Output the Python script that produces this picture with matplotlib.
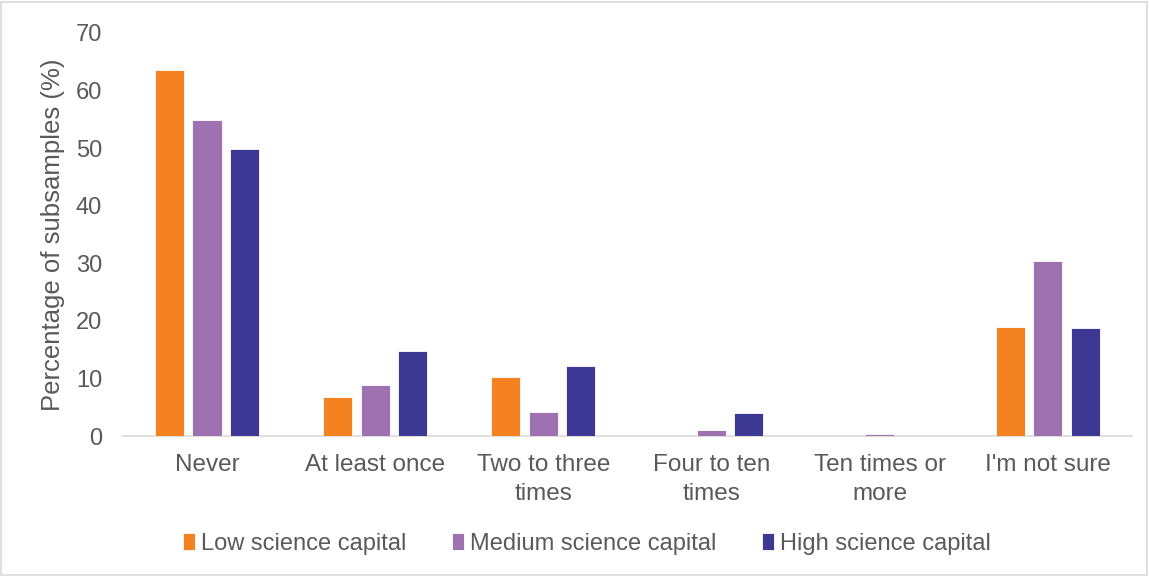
import numpy as np
import matplotlib.pyplot as plt
from matplotlib.patches import Rectangle

plt.rcParams['font.family'] = ['Liberation Sans', 'DejaVu Sans']

categories = ['Never', 'At least once', 'Two to three\ntimes', 'Four to ten\ntimes',
              'Ten times or\nmore', "I'm not sure"]
low = [63.5, 6.8, 10.2, 0.0, 0.0, 18.9]
medium = [54.9, 8.8, 4.1, 1.0, 0.3, 30.4]
high = [49.8, 14.8, 12.1, 4.0, 0.0, 18.8]
series = ['Low science capital', 'Medium science capital', 'High science capital']
colors = ['#f58220', '#9e72b0', '#3d3893']

text_col = '#595959'

fig = plt.figure(figsize=(11.49, 5.76), dpi=100)
ax = fig.add_axes([0.107, 0.243, 0.878, 0.7])

x = np.arange(len(categories))
w = 0.173
step = 0.223
for i, (vals, name, c) in enumerate(zip([low, medium, high], series, colors)):
    ax.bar(x + (i - 1) * step, vals, w, color=c, label=name,
           edgecolor='white', linewidth=0.6, zorder=3)

ax.set_xlim(-0.5, len(categories) - 0.5)
ax.set_ylim(0, 70)
ax.set_yticks(range(0, 71, 10))
ax.set_xticks(x)
ax.set_xticklabels(categories, fontsize=17.5, color=text_col, linespacing=1.4)
ax.tick_params(axis='y', labelsize=17, labelcolor=text_col, length=0, pad=15)
ax.tick_params(axis='x', length=0, pad=13)
for s in ['top', 'right', 'left']:
    ax.spines[s].set_visible(False)
ax.spines['bottom'].set_color('#d9d9d9')
ax.spines['bottom'].set_linewidth(1.2)
ax.set_ylabel('Percentage of subsamples (%)', fontsize=18.5, color=text_col, labelpad=8)

leg = fig.legend(loc='center', bbox_to_anchor=(0.511, 0.056), ncol=3, frameon=False,
                 fontsize=17, handlelength=0.5, handleheight=0.68, handletextpad=0.25,
                 columnspacing=1.95)
for t in leg.get_texts():
    t.set_color(text_col)

# light frame around the whole chart
fig.patches.append(Rectangle((0.001, 0.002), 0.997, 0.995, transform=fig.transFigure,
                             fill=False, edgecolor='#d9d9d9', linewidth=1.2))

fig.savefig('out.png', dpi=100)
